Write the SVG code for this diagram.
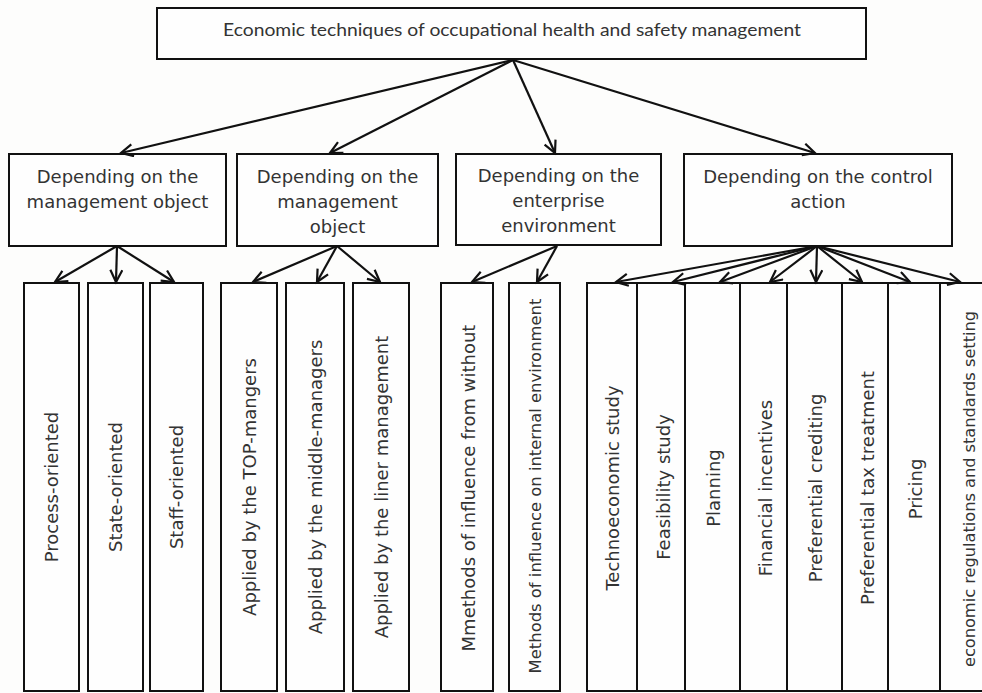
<svg xmlns="http://www.w3.org/2000/svg" width="982" height="693" viewBox="0 0 982 693">
<defs>
<marker id="ah" markerUnits="userSpaceOnUse" markerWidth="16" markerHeight="16" refX="13" refY="7" orient="auto">
<path d="M1,1 L13,7 L1,13" fill="none" stroke="#111" stroke-width="2.2" stroke-linejoin="miter"/>
</marker>
<style>
.box{fill:#fefefe;stroke:#111;stroke-width:2}
.t{font-family:"DejaVu Sans",Verdana,sans-serif;font-size:18px;fill:#333;text-anchor:middle}
.title{font-family:Lato,"Open Sans",sans-serif;font-size:18px;fill:#333;text-anchor:middle}
.c line{stroke:#111;stroke-width:2.2;marker-end:url(#ah)}
</style>
</defs>
<rect width="982" height="693" fill="#fdfdfc"/>

<g id="root">
<rect class="box" x="157" y="8" width="709" height="51"/>
<text class="title" x="512" y="36" textLength="578" lengthAdjust="spacingAndGlyphs">Economic techniques of occupational health and safety management</text>
</g>

<g id="cat1">
<rect class="box" x="9" y="154" width="217" height="92"/>
<text class="t" x="117.5" y="183">Depending on the</text>
<text class="t" x="117.5" y="208">management object</text>
</g>
<g id="cat2">
<rect class="box" x="237" y="154" width="201" height="92"/>
<text class="t" x="337.5" y="183">Depending on the</text>
<text class="t" x="337.5" y="208">management</text>
<text class="t" x="337.5" y="233">object</text>
</g>
<g id="cat3">
<rect class="box" x="456" y="154" width="205" height="91"/>
<text class="t" x="558.5" y="182">Depending on the</text>
<text class="t" x="558.5" y="207">enterprise</text>
<text class="t" x="558.5" y="232">environment</text>
</g>
<g id="cat4">
<rect class="box" x="684" y="154" width="268" height="92"/>
<text class="t" x="818" y="183">Depending on the control</text>
<text class="t" x="818" y="208">action</text>
</g>

<g id="leaf-process"><rect class="box" x="24" y="283" width="55" height="408"/><text class="t" transform="translate(52,487) rotate(-90)" dy="0.35em">Process-oriented</text></g>
<g id="leaf-state"><rect class="box" x="88" y="283" width="55" height="408"/><text class="t" transform="translate(115.5,487) rotate(-90)" dy="0.35em">State-oriented</text></g>
<g id="leaf-staff"><rect class="box" x="150" y="283" width="53" height="408"/><text class="t" transform="translate(176.5,487) rotate(-90)" dy="0.35em">Staff-oriented</text></g>
<g id="leaf-top"><rect class="box" x="221" y="283" width="56" height="408"/><text class="t" transform="translate(249.5,487) rotate(-90)" dy="0.35em">Applied by the TOP-mangers</text></g>
<g id="leaf-middle"><rect class="box" x="286" y="283" width="58" height="408"/><text class="t" transform="translate(316,487) rotate(-90)" dy="0.35em">Applied by the middle-managers</text></g>
<g id="leaf-liner"><rect class="box" x="353" y="283" width="56" height="408"/><text class="t" transform="translate(381.5,487) rotate(-90)" dy="0.35em">Applied by the liner management</text></g>
<g id="leaf-without"><rect class="box" x="441" y="283" width="52" height="408"/><text class="t" transform="translate(469,488) rotate(-90)" dy="0.35em">Mmethods of influence from without</text></g>
<g id="leaf-internal"><rect class="box" x="509" y="283" width="51" height="408"/><text class="t" style="font-size:16.4px" transform="translate(535.5,486) rotate(-90)" dy="0.35em">Methods of influence on internal environment</text></g>
<g id="leaf-techno"><rect class="box" x="587" y="283" width="50" height="408"/><text class="t" transform="translate(613,488) rotate(-90)" dy="0.35em">Technoeconomic study</text></g>
<g id="leaf-feasibility"><rect class="box" x="637" y="283" width="48" height="408"/><text class="t" transform="translate(664,487) rotate(-90)" dy="0.35em">Feasibility study</text></g>
<g id="leaf-planning"><rect class="box" x="685" y="283" width="55" height="408"/><text class="t" transform="translate(714,488) rotate(-90)" dy="0.35em">Planning</text></g>
<g id="leaf-financial"><rect class="box" x="740" y="283" width="47" height="408"/><text class="t" transform="translate(765.5,488) rotate(-90)" dy="0.35em">Financial incentives</text></g>
<g id="leaf-crediting"><rect class="box" x="787" y="283" width="55" height="408"/><text class="t" transform="translate(816,488) rotate(-90)" dy="0.35em">Preferential crediting</text></g>
<g id="leaf-tax"><rect class="box" x="842" y="283" width="46" height="408"/><text class="t" transform="translate(867.5,488) rotate(-90)" dy="0.35em">Preferential tax treatment</text></g>
<g id="leaf-pricing"><rect class="box" x="888" y="283" width="52" height="408"/><text class="t" transform="translate(916,489) rotate(-90)" dy="0.35em">Pricing</text></g>
<g id="leaf-regulations"><rect class="box" x="940" y="283" width="60" height="408"/><text class="t" style="font-size:16.2px" transform="translate(969.5,489) rotate(-90)" dy="0.35em">economic regulations and standards setting</text></g>

<g id="connectors" class="c">
<line x1="513" y1="60" x2="121" y2="153"/>
<line x1="513" y1="60" x2="330" y2="153"/>
<line x1="513" y1="60" x2="555" y2="153"/>
<line x1="513" y1="60" x2="815" y2="153"/>
<line x1="117" y1="246" x2="55" y2="282"/>
<line x1="117" y1="246" x2="116" y2="282"/>
<line x1="117" y1="246" x2="174" y2="282"/>
<line x1="337" y1="246" x2="253" y2="282"/>
<line x1="337" y1="246" x2="317" y2="282"/>
<line x1="337" y1="246" x2="380" y2="282"/>
<line x1="557" y1="246" x2="472" y2="282"/>
<line x1="557" y1="246" x2="537" y2="282"/>
<line x1="817" y1="246" x2="616" y2="282"/>
<line x1="817" y1="246" x2="673" y2="282"/>
<line x1="817" y1="246" x2="720" y2="282"/>
<line x1="817" y1="246" x2="770" y2="282"/>
<line x1="817" y1="246" x2="816" y2="282"/>
<line x1="817" y1="246" x2="862" y2="282"/>
<line x1="817" y1="246" x2="910" y2="282"/>
<line x1="817" y1="246" x2="960" y2="282"/>
</g>
</svg>
